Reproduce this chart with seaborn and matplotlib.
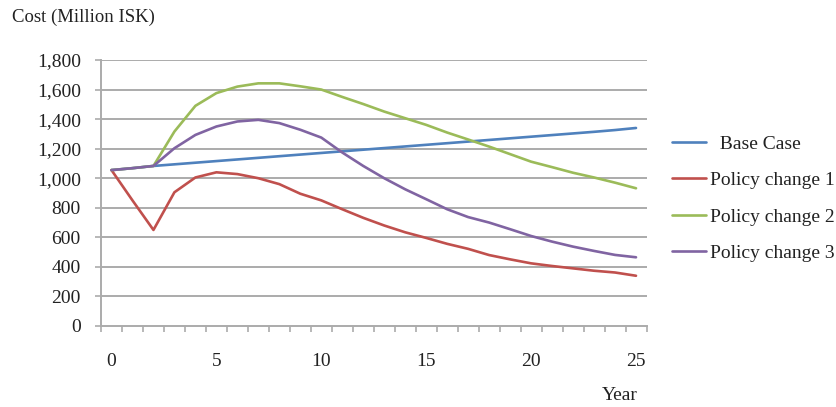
import matplotlib
matplotlib.use("Agg")
import matplotlib.pyplot as plt
from matplotlib.ticker import FixedLocator, FuncFormatter
import seaborn as sns
import pandas as pd

# Annual cost per scenario, years 0-25 (million ISK)
years = list(range(26))
base_case = [1055, 1068, 1083, 1094, 1105, 1116, 1127, 1138, 1149, 1160,
             1171, 1182, 1193, 1204, 1215, 1226, 1237, 1248, 1259, 1270,
             1281, 1292, 1303, 1314, 1326, 1340]
policy_1 = [1055, 850, 650, 905, 1005, 1040, 1028, 1000, 960, 895,
            850, 790, 732, 680, 634, 596, 556, 522, 480, 451,
            424, 406, 390, 374, 362, 340]
policy_2 = [1055, 1068, 1083, 1316, 1490, 1576, 1620, 1642, 1642, 1622,
            1600, 1550, 1502, 1451, 1406, 1361, 1309, 1262, 1214, 1163,
            1112, 1075, 1037, 1005, 970, 932]
policy_3 = [1055, 1068, 1083, 1203, 1293, 1350, 1384, 1395, 1373, 1328,
            1275, 1174, 1083, 1000, 925, 858, 790, 737, 700, 655,
            609, 571, 537, 508, 481, 465]

scenarios = ["Base Case", "Policy change 1", "Policy change 2", "Policy change 3"]
colors = ["#4F81BD", "#C0504D", "#9BBB59", "#8064A2"]
y_ticks = [0, 200, 400, 600, 800, 1000, 1200, 1400, 1600, 1800]
x_ticks = [0, 5, 10, 15, 20, 25]

df = pd.DataFrame({
    "Year": years * 4,
    "Cost": base_case + policy_1 + policy_2 + policy_3,
    "Scenario": sum([[s] * len(years) for s in scenarios], []),
})

sns.set_style("white")
plt.rcParams["font.family"] = ["Liberation Serif", "DejaVu Serif"]

fig = plt.figure(figsize=(8.36, 4.07), dpi=100)
ax = fig.add_axes([101 / 836, 1 - 326 / 407, (646.5 - 101) / 836, (326 - 60) / 407])

grid_col = "#ABABAB"
for v in y_ticks[1:]:
    ax.axhline(v, color=grid_col, lw=1.4, zorder=0)

sns.lineplot(data=df, x="Year", y="Cost", hue="Scenario", hue_order=scenarios,
             palette=colors, linewidth=1.9, ax=ax, legend=False, zorder=3)

ax.set_xlim(-0.5, 25.5)
ax.set_ylim(0, 1800)
ax.set_xlabel("")
ax.set_ylabel("")

for side in ["top", "right"]:
    ax.spines[side].set_visible(False)
for side in ["left", "bottom"]:
    ax.spines[side].set_color(grid_col)
    ax.spines[side].set_linewidth(1.4)

ax.yaxis.set_major_locator(FixedLocator(y_ticks))
ax.yaxis.set_major_formatter(FuncFormatter(lambda v, p: f"{int(v):,}"))
ax.tick_params(axis="y", which="major", direction="out", length=4.5, width=1.2,
               color=grid_col, pad=10, labelsize=14, labelcolor="#222222", left=True)

ax.xaxis.set_major_locator(FixedLocator(x_ticks))
ax.xaxis.set_minor_locator(FixedLocator([x + 0.5 for x in range(-1, 26)]))
ax.tick_params(axis="x", which="major", length=0, pad=19.5, labelsize=14,
               labelcolor="#222222", bottom=True)
ax.tick_params(axis="x", which="minor", direction="out", length=4.5, width=1.2,
               color=grid_col, bottom=True)

fig.text(12 / 836, 1 - 17 / 407, "Cost (Million ISK)", fontsize=13.5,
         color="#222222", ha="left", va="center")
fig.text(638 / 836, 1 - 396 / 407, "Year", fontsize=14,
         color="#222222", ha="right", va="center")

handles = ax.get_lines()[-4:]
labels = ["  Base Case", "Policy change 1", "Policy change 2", "Policy change 3"]
leg = fig.legend(handles, labels, loc="upper left",
                 bbox_to_anchor=(672 / 836, 1 - 135 / 407),
                 frameon=False, fontsize=14, borderpad=0, borderaxespad=0,
                 handlelength=1.75, handletextpad=0.2, labelspacing=0.97)
for t in leg.get_texts():
    t.set_color("#222222")

fig.savefig("out.png", dpi=100)
